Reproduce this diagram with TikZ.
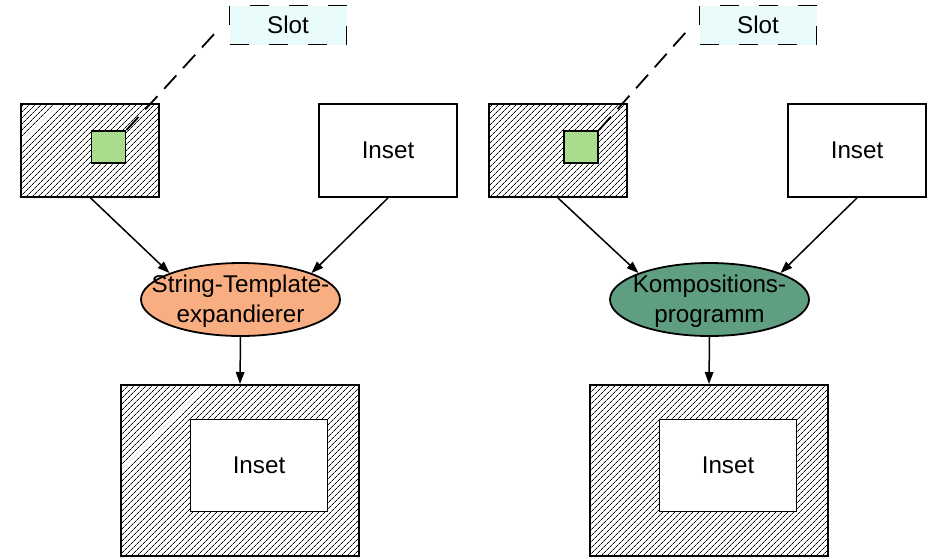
\documentclass[tikz,border=0pt]{standalone}
\usepackage{fontspec}
\setmainfont{Liberation Sans}
\usetikzlibrary{shapes.geometric,patterns.meta,arrows.meta}
\definecolor{slotfill}{RGB}{234,251,251}
\definecolor{greensq}{RGB}{169,221,141}
\definecolor{salmon}{RGB}{248,174,128}
\definecolor{teal}{RGB}{95,158,128}
\tikzset{
  hatchbox/.style={draw, line width=2pt, pattern={Lines[angle=45,distance=4pt,line width=0.8pt]}, inner sep=0pt},
  whitebox/.style={draw, line width=1.8pt, fill=white, minimum width=137pt, minimum height=92pt, inner sep=0pt},
  greenbox/.style={draw, line width=1.8pt, fill=greensq, minimum width=34pt, minimum height=32pt, inner sep=0pt},
  slotbox/.style={draw, line width=1.8pt, fill=slotfill, dash pattern=on 19pt off 20pt, minimum width=117pt, minimum height=39pt, inner sep=0pt},
  slotline/.style={line width=1.8pt, dash pattern=on 18pt off 10pt},
  blob/.style={ellipse, draw, line width=1.8pt, minimum width=199pt, minimum height=73pt, inner sep=0pt},
  lbl/.style={align=center, inner sep=0pt},
  arr/.style={line width=1.5pt, -{Triangle[length=12pt,width=8.5pt]}},
}
\begin{document}
\begin{tikzpicture}[x=1pt,y=-1pt, font=\fontsize{24.2}{30}\selectfont]
\useasboundingbox (0,0) rectangle (930,558);
% ---------- left ----------
\node[hatchbox, minimum width=138pt, minimum height=93pt] (t1) at (90,150.5) {};
\node[greenbox] (g1) at (108.5,147) {};
\node[slotbox] (s1) at (288,25) {Slot};
\coordinate (c1) at (216,32);
\draw[slotline] (g1.north east) -- (c1);
\node[whitebox, minimum width=138pt, minimum height=93pt] (i1) at (388,150.5) {Inset};
\node[blob, fill=salmon] (e1) at (240.5,299.5) {};
\node[lbl] (e1t) at (240.5,301) {String-Template-\\expandierer};
\node[hatchbox, minimum width=238pt, minimum height=171pt] (b1) at (240,470.5) {};
\node[whitebox] (bi1) at (259,465.5) {Inset};
\draw[arr] (t1.south) -- (e1.north west);
\draw[arr] (i1.south) -- (e1.north east);
\draw[arr] (e1.south) -- (b1.north);
% ---------- right ----------
\node[hatchbox, minimum width=138pt, minimum height=93pt] (t2) at (558,150.5) {};
\node[greenbox] (g2) at (581,147) {};
\node[slotbox] (s2) at (758,25) {Slot};
\coordinate (c2) at (686,32);
\draw[slotline] (g2.north east) -- (c2);
\node[whitebox, minimum width=138pt, minimum height=93pt] (i2) at (857,150.5) {Inset};
\node[blob, fill=teal] (e2) at (709.5,299.5) {};
\node[lbl] (e2t) at (709.5,301) {Kompositions-\\programm};
\node[hatchbox, minimum width=238pt, minimum height=171pt] (b2) at (709,470.5) {};
\node[whitebox] (bi2) at (728,465.5) {Inset};
\draw[arr] (t2.south) -- (e2.north west);
\draw[arr] (i2.south) -- (e2.north east);
\draw[arr] (e2.south) -- (b2.north);
\end{tikzpicture}
\end{document}
